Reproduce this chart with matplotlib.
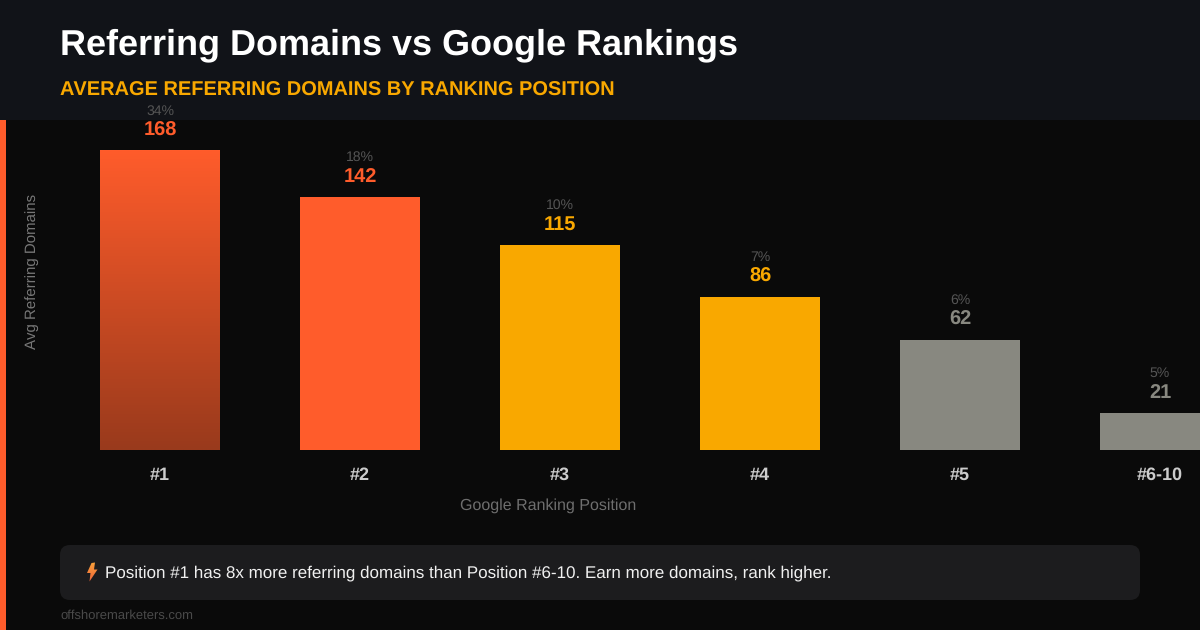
import numpy as np
import matplotlib
matplotlib.use("Agg")
import matplotlib.pyplot as plt
from matplotlib.patches import Rectangle, FancyBboxPatch, Polygon
from matplotlib.colors import LinearSegmentedColormap

plt.rcParams['font.family'] = ['Liberation Sans', 'DejaVu Sans']
plt.rcParams['text.hinting'] = 'no_hinting'
plt.rcParams['text.hinting_factor'] = 1

positions = ["#1", "#2", "#3", "#4", "#5", "#6-10"]
domains = [168, 142, 115, 86, 62, 21]
shares = ["34%", "18%", "10%", "7%", "6%", "5%"]
bar_colors = ["#FF5C2B", "#FF5C2B", "#F9A800", "#F9A800", "#888880", "#888880"]

W, H = 1200, 630
PX = 0.72  # pt per px at dpi 100

fig = plt.figure(figsize=(12, 6.3), dpi=100, facecolor="#0A0A0A")

# layout layer in pixel coordinates
bg = fig.add_axes([0, 0, 1, 1], zorder=0)
bg.set_xlim(0, W)
bg.set_ylim(H, 0)
bg.axis("off")
bg.add_patch(Rectangle((0, 0), W, 120, fc="#111318", ec="none"))
bg.add_patch(Rectangle((0, 120), 6, 510, fc="#FF5C2B", ec="none"))
card = FancyBboxPatch((68, 553), 1064, 39, boxstyle="round,pad=8,rounding_size=10",
                      fc="#1C1C1E", ec="#1C1C1E", lw=0)
bg.add_patch(card)

bg.text(60, 54.3, "Referring Domains vs Google Rankings", color="white", fontsize=36*PX,
        fontweight="bold", va="baseline", ha="left")
bg.text(60, 95.6, "AVERAGE REFERRING DOMAINS BY RANKING POSITION", color="#F9A800", fontsize=20*PX,
        fontweight="bold", va="baseline", ha="left")
bg.text(32, 271, "Avg Referring Domains", color="#777777", fontsize=15*PX, rotation=90,
        va="center", ha="center")
bg.text(548, 509.6, "Google Ranking Position", color="#6E6E6E", fontsize=16*PX,
        va="baseline", ha="center")
bg.text(105, 577, "Position #1 has 8x more referring domains than Position #6-10. Earn more domains, rank higher.",
        color="#F0F0F0", fontsize=17*PX, va="baseline", ha="left")
bg.text(60, 618.5, "offshoremarketers.com", color="#4A4A4A", fontsize=13*PX, va="baseline", ha="left")

# lightning icon
bolt = Polygon([(91.5, 563), (95, 562.5), (94, 569.5), (97.5, 569.5), (89.5, 581.5),
                (90.5, 573), (87, 573)],
               closed=True, fc="none", ec="none")
bg.add_patch(bolt)
bolt_cmap = LinearSegmentedColormap.from_list("bolt", ["#F9A23A", "#F0653A"])
im = bg.imshow(np.linspace(0, 1, 32)[:, None], extent=(86, 98, 582, 562), cmap=bolt_cmap,
               aspect="auto", zorder=3)
im.set_clip_path(bolt)
bg.set_xlim(0, W)
bg.set_ylim(H, 0)

# chart layer: baseline at y=450, top at y=150, category centres at 160 + 200*i
ax = fig.add_axes([0, (H-450.45)/H, 1, 300/H], zorder=1)
ax.patch.set_alpha(0)
ax.set_xlim(-0.8, 5.2)
ax.set_ylim(0, 168)
x = np.arange(len(positions))
bars = ax.bar(x, domains, width=0.6, color=bar_colors, linewidth=0, zorder=2)

# gradient on the leading bar
grad = LinearSegmentedColormap.from_list("lead", ["#FF5C2B", "#993A1C"])
b0 = bars[0]
img = ax.imshow(np.linspace(0, 1, 256)[:, None],
                extent=(b0.get_x(), b0.get_x()+b0.get_width(), 0, b0.get_height()),
                origin="upper", cmap=grad, aspect="auto", zorder=3)
ax.set_xlim(-0.8, 5.2)
ax.set_ylim(0, 168)

for i, (v, s, c) in enumerate(zip(domains, shares, bar_colors)):
    ax.annotate(str(v), (i, v), xytext=(0, 15*PX), textcoords="offset points", ha="center",
                va="baseline", color=c, fontsize=20*PX, fontweight="bold", annotation_clip=False)
    ax.annotate(s, (i, v), xytext=(0, 36*PX), textcoords="offset points", ha="center",
                va="baseline", color="#555555", fontsize=14*PX, annotation_clip=False)

ax.set_xticks(x)
ax.set_xticklabels(positions, color="#CCCCCC", fontsize=18*PX, fontweight="bold", va="baseline")
ax.tick_params(axis="x", length=0, pad=29.3*PX)
ax.set_yticks([])
for sp in ax.spines.values():
    sp.set_visible(False)

fig.savefig("out.png", dpi=100, facecolor=fig.get_facecolor())
